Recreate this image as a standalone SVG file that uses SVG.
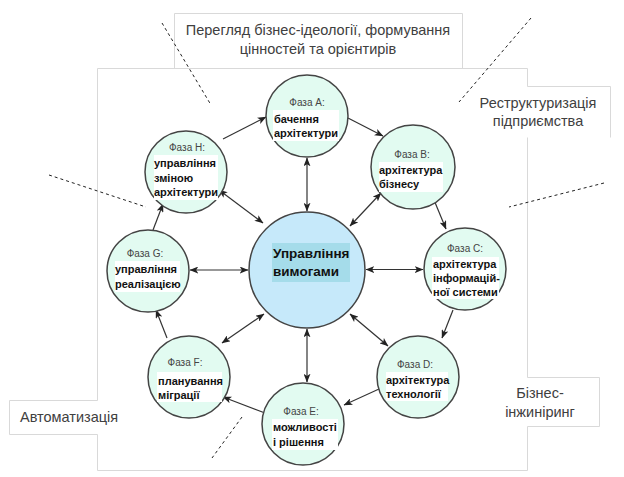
<svg xmlns="http://www.w3.org/2000/svg" width="624" height="477" viewBox="0 0 624 477">
<style>
.frame{fill:none;stroke:#d9d9d9;stroke-width:1}
.dash{fill:none;stroke:#222;stroke-width:1;stroke-dasharray:3,3}
.conn{fill:none;stroke:#333;stroke-width:1.2}
.ph{fill:#e2fbf1;stroke:#444;stroke-width:1.5}
.core{fill:#c6e9fa;stroke:#444;stroke-width:1.5}
.wb{fill:#fff}
.lbl{font-family:"Liberation Sans",Arial,sans-serif;font-size:10px;fill:#444;text-anchor:middle}
.bt{font-family:"Liberation Sans",Arial,sans-serif;font-size:11px;font-weight:bold;fill:#111}
.ct{font-family:"Liberation Sans",Arial,sans-serif;font-size:13.5px;font-weight:bold;fill:#111}
.big{font-family:"Liberation Sans",Arial,sans-serif;font-size:14.5px;fill:#404040}
.mid{text-anchor:middle}
</style>
<defs>
<marker id="ah" viewBox="0 0 10 8" refX="9.5" refY="4" markerWidth="9" markerHeight="7" markerUnits="userSpaceOnUse" orient="auto-start-reverse">
<path d="M0,0 L10,4 L0,8 L2.5,4 Z" fill="#222"/>
</marker>
</defs>
<g id="frame">
<path class="frame" d="M174.5,68.5 V13.5 H462.5 V68.5 M97.5,68.5 H527.5 V86.5 H610.5 V137.5 M527.5,137.5 V377.5 H599.5 V426.5 H527.5 M527.5,426.5 V470.5 H97.5 V434.5 H9.5 V400.5 H97.5 V68.5"/>
</g>
<g id="dashes">
<line class="dash" x1="162" y1="23" x2="211" y2="105"/>
<line class="dash" x1="531" y1="18" x2="459" y2="102"/>
<line class="dash" x1="49" y1="175" x2="146" y2="207"/>
<line class="dash" x1="604" y1="183" x2="509" y2="207"/>
<line class="dash" x1="242" y1="417" x2="212" y2="458"/>
</g>
<g id="labels">
<text class="big mid" x="318" y="35">Перегляд бізнес-ідеології, формування</text>
<text class="big mid" x="318" y="54">цінностей та орієнтирів</text>
<text class="big mid" x="538" y="108">Реструктуризація</text>
<text class="big mid" x="538" y="126">підприємства</text>
<text class="big mid" x="540" y="398">Бізнес-</text>
<text class="big mid" x="540" y="417">інжиніринг</text>
<text class="big" x="20" y="422">Автоматизація</text>
</g>
<g id="connectors">
<line class="conn" x1="223" y1="139" x2="266" y2="117" marker-end="url(#ah)"/>
<line class="conn" x1="348" y1="118" x2="383" y2="136" marker-end="url(#ah)"/>
<line class="conn" x1="434" y1="200" x2="446" y2="229" marker-end="url(#ah)"/>
<line class="conn" x1="453" y1="310" x2="442" y2="338" marker-end="url(#ah)"/>
<line class="conn" x1="379" y1="389" x2="344" y2="405" marker-end="url(#ah)"/>
<line class="conn" x1="265" y1="413" x2="223" y2="397" marker-end="url(#ah)"/>
<line class="conn" x1="167" y1="338" x2="156" y2="310" marker-end="url(#ah)"/>
<line class="conn" x1="153" y1="230" x2="163" y2="204" marker-end="url(#ah)"/>
<line class="conn" x1="307" y1="158" x2="307" y2="211" marker-start="url(#ah)" marker-end="url(#ah)"/>
<line class="conn" x1="381" y1="193" x2="350" y2="226" marker-start="url(#ah)" marker-end="url(#ah)"/>
<line class="conn" x1="366" y1="269.5" x2="423" y2="269.5" marker-start="url(#ah)" marker-end="url(#ah)"/>
<line class="conn" x1="350" y1="314" x2="388" y2="346" marker-start="url(#ah)" marker-end="url(#ah)"/>
<line class="conn" x1="307" y1="329" x2="307" y2="382" marker-start="url(#ah)" marker-end="url(#ah)"/>
<line class="conn" x1="264" y1="314" x2="222" y2="343" marker-start="url(#ah)" marker-end="url(#ah)"/>
<line class="conn" x1="248" y1="270" x2="190" y2="270" marker-start="url(#ah)" marker-end="url(#ah)"/>
<line class="conn" x1="263" y1="223" x2="219" y2="190" marker-start="url(#ah)" marker-end="url(#ah)"/>
</g>
<g id="core">
<circle class="core" cx="307" cy="270" r="58"/>
<rect x="272" y="243" width="78" height="39" fill="#a5dcea"/>
<text class="ct" x="273" y="258">Управління</text>
<text class="ct" x="273" y="276">вимогами</text>
</g>
<g id="phaseA">
<circle class="ph" cx="307" cy="116" r="41"/>
<text class="lbl" x="307" y="106">Фаза A:</text>
<rect class="wb" x="273" y="110" width="66" height="31"/>
<text class="bt" x="274" y="123">бачення</text>
<text class="bt" x="274" y="137">архітектури</text>
</g>
<g id="phaseB">
<circle class="ph" cx="413" cy="167" r="42"/>
<text class="lbl" x="412" y="158">Фаза B:</text>
<rect class="wb" x="379" y="162" width="64" height="30"/>
<text class="bt" x="379" y="174">архітектура</text>
<text class="bt" x="379" y="188">бізнесу</text>
</g>
<g id="phaseC">
<circle class="ph" cx="465" cy="269" r="41"/>
<text class="lbl" x="465" y="252">Фаза C:</text>
<rect class="wb" x="432" y="257" width="67" height="42"/>
<text class="bt" x="433" y="268">архітектура</text>
<text class="bt" x="433" y="282">інформацій-</text>
<text class="bt" x="433" y="296">ної системи</text>
</g>
<g id="phaseD">
<circle class="ph" cx="418" cy="377" r="41"/>
<text class="lbl" x="415" y="368">Фаза D:</text>
<rect class="wb" x="386" y="372" width="62" height="29"/>
<text class="bt" x="386" y="384">архітектура</text>
<text class="bt" x="386" y="398">технології</text>
</g>
<g id="phaseE">
<circle class="ph" cx="303" cy="424" r="41"/>
<text class="lbl" x="301" y="415">Фаза E:</text>
<rect class="wb" x="272" y="419" width="66" height="31"/>
<text class="bt" x="273" y="431">можливості</text>
<text class="bt" x="273" y="446">і рішення</text>
</g>
<g id="phaseF">
<circle class="ph" cx="189" cy="377" r="41"/>
<text class="lbl" x="185" y="366">Фаза F:</text>
<rect class="wb" x="157" y="372" width="65" height="30"/>
<text class="bt" x="158" y="385">планування</text>
<text class="bt" x="158" y="399">міграції</text>
</g>
<g id="phaseG">
<circle class="ph" cx="148" cy="271" r="41"/>
<text class="lbl" x="145" y="257">Фаза G:</text>
<rect class="wb" x="115" y="261" width="65" height="31"/>
<text class="bt" x="115" y="273">управління</text>
<text class="bt" x="115" y="288">реалізацією</text>
</g>
<g id="phaseH">
<circle class="ph" cx="186" cy="172" r="41"/>
<text class="lbl" x="187" y="151">Фаза H:</text>
<rect class="wb" x="154" y="155" width="64" height="45"/>
<text class="bt" x="154" y="167">управління</text>
<text class="bt" x="154" y="182">зміною</text>
<text class="bt" x="154" y="196">архітектури</text>
</g>
</svg>
